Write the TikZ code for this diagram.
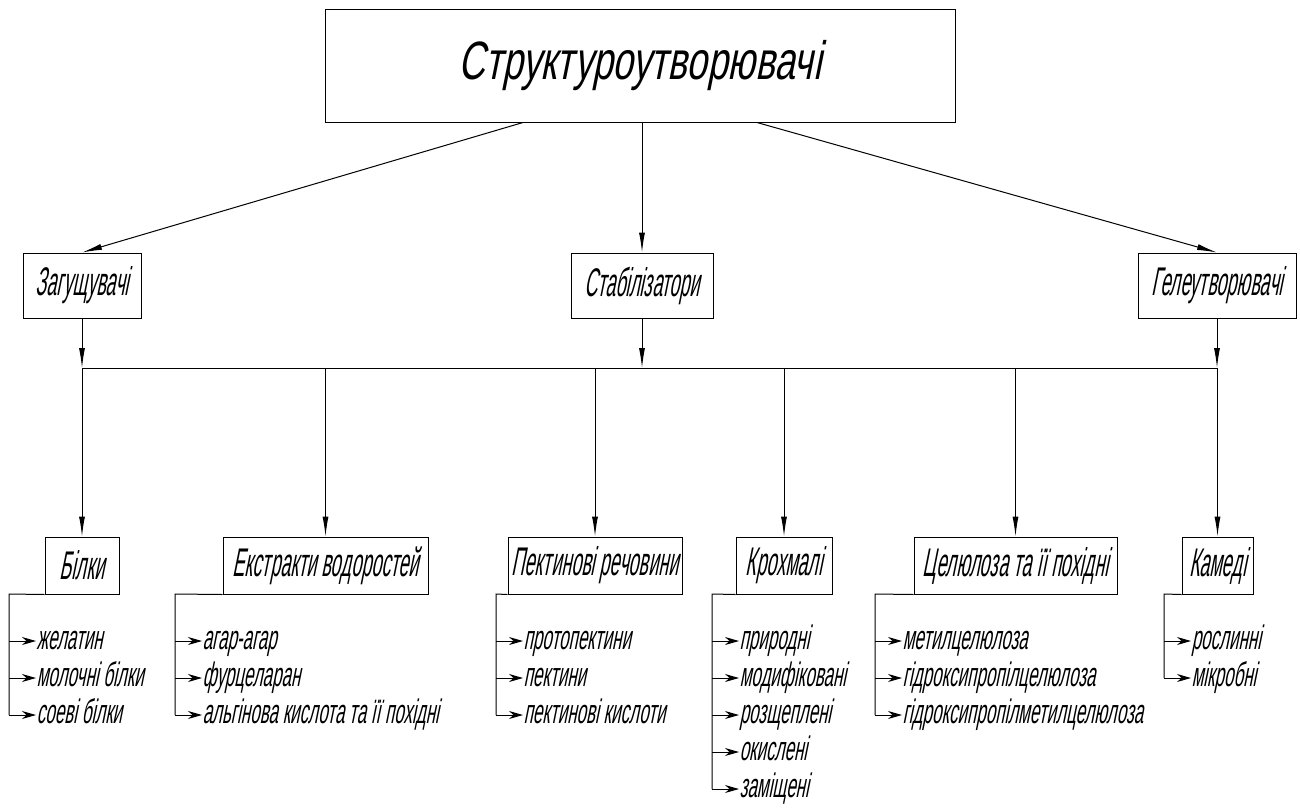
\documentclass[tikz,border=0pt]{standalone}
\usepackage{fontspec}
\newfontfamily\drawfont[FakeSlant=0.2,FakeStretch=0.45]{Liberation Sans}
\newfontfamily\itemfont[FakeSlant=0.2,FakeStretch=0.5]{Liberation Sans}
\newfontfamily\titlefont[FakeSlant=0.2,FakeStretch=0.68]{Liberation Sans}
\usetikzlibrary{arrows.meta}

\tikzset{
  box/.style={draw, inner sep=0pt, font=\drawfont\fontsize{40}{44}\selectfont},
  item/.style={anchor=west, inner sep=0pt, text height=22pt, text depth=6pt, font=\itemfont\fontsize{34}{36}\selectfont},
  arr/.style={-{Latex[length=20pt,width=6pt]}},
  itemarr/.style={-{Stealth[length=14pt,width=8pt]}}
}

\begin{document}
\begin{tikzpicture}[x=1pt,y=-1pt,line width=1pt]

\useasboundingbox (0,0) rectangle (1300,809);

% Top box
\node[box, minimum width=630pt, minimum height=113pt, font=\titlefont\fontsize{54}{58}\selectfont] (struct) at (640,65.5) {Структуроутворювачі};

% Second level
\node[box, minimum width=118pt, minimum height=65pt] (zag) at (82,285.5) {Загущувачі};
\node[box, minimum width=142pt, minimum height=65pt] (stab) at (642,285.5) {Стабілізатори};
\node[box, minimum width=158pt, minimum height=65pt] (gel) at (1217,285.5) {Гелеутворювачі};

\draw[arr] ([xshift=-117pt]struct.south) -- (zag.north);
\draw[arr] (stab.north |- struct.south) -- (stab.north);
\draw[arr] ([xshift=117pt]struct.south) -- (gel.north);

% Common bus
\coordinate (busL) at (82,368);
\coordinate (busR) at (1217,368);
\draw (busL) -- (busR);
\draw[arr] (zag.south) -- (zag.south |- busL);
\draw[arr] (stab.south) -- (stab.south |- busL);
\draw[arr] (gel.south) -- (gel.south |- busR);

% Groups
\foreach \name/\x/\w/\txt in {bilky/82/74/Білки, ekstr/325.5/205/Екстракти водоростей, pekt/595/174/Пектинові речовини, kroh/784/96/Крохмалі, cel/1015.5/203/Целюлоза та її похідні, kamedi/1217.5/71/Камеді}{
  \node[box, minimum width=\w pt, minimum height=57pt] (\name) at (\x,565.5) {\txt};
  \draw[arr] (\name.north |- busL) -- (\name.north);
}

% Members of each group
\foreach \name/\bx/\n/\items in {
  bilky/9/3/{желатин,молочні білки,соеві білки},
  ekstr/175/3/{агар-агар,фурцеларан,альгінова кислота та її похідні},
  pekt/496/3/{протопектини,пектини,пектинові кислоти},
  kroh/712/5/{природні,модифіковані,розщеплені,окислені,заміщені},
  cel/875/3/{метилцелюлоза,гідроксипропілцелюлоза,гідроксипропілметилцелюлоза},
  kamedi/1164/2/{рослинні,мікробні}}{
  \draw (\name.south west) -- (\bx,594) -- (\bx,{641+37*(\n-1)});
  \foreach \lbl [count=\k] in \items {
    \node[item] (\name-\k) at ({\bx+27},{641+37*(\k-1)}) {\lbl};
    \draw[itemarr] (\bx,{641+37*(\k-1)}) -- (\name-\k.west);
  }
}

\end{tikzpicture}
\end{document}
